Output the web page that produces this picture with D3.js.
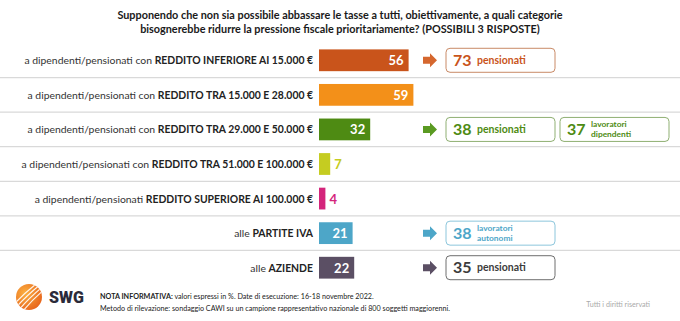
<!DOCTYPE html>
<html><head><meta charset="utf-8">
<script src="https://cdn.jsdelivr.net/npm/d3@7"></script>
<style>
html,body{margin:0;padding:0;background:#fff;}
svg{display:block;font-family:Lato, "Open Sans", sans-serif;}
</style></head>
<body>
<script>
// ---------- DATA ----------
const titleLines = [
  "Supponendo che non sia possibile abbassare le tasse a tutti, obiettivamente, a quali categorie",
  "bisognerebbe ridurre la pressione fiscale prioritariamente? (POSSIBILI 3 RISPOSTE)"
];
const labelPrefix = [
  "a dipendenti/pensionati con ",
  "a dipendenti/pensionati con ",
  "a dipendenti/pensionati con ",
  "a dipendenti/pensionati con ",
  "a dipendenti/pensionati ",
  "alle ",
  "alle "
];
const labelBold = [
  "REDDITO INFERIORE AI 15.000 €",
  "REDDITO TRA 15.000 E 28.000 €",
  "REDDITO TRA 29.000 E 50.000 €",
  "REDDITO TRA 51.000 E 100.000 €",
  "REDDITO SUPERIORE AI 100.000 €",
  "PARTITE IVA",
  "AZIENDE"
];
const values = [56, 59, 32, 7, 4, 21, 22];
const colors = ["#C9541B", "#F39019", "#4E8B13", "#C5CC21", "#D4257B", "#4DA6C8", "#5B4F64"];
// callouts: row index, value, label lines
const calloutRow   = [0, 2, 2, 5, 6];
const calloutSlot  = [0, 0, 1, 0, 0];
const calloutValue = [73, 38, 37, 38, 35];
const calloutText  = [["pensionati"], ["pensionati"], ["lavoratori", "dipendenti"], ["lavoratori", "autonomi"], ["pensionati"]];
const calloutColor = ["#C9541B", "#4E8B13", "#4E8B13", "#4DA6C8", "#3C3C3C"];
const calloutBorder= ["#C98A66", "#8FAF72", "#8FAF72", "#8CC6DC", "#6E6E6E"];
const arrowRows    = [0, 2, 5, 6];
const arrowColors  = ["#D5672E", "#5A9A22", "#4DA6C8", "#5B4F64"];
const noteBold = "NOTA INFORMATIVA:";
const noteLine1 = " valori espressi in %. Date di esecuzione: 16-18 novembre 2022.";
const noteLine2 = "Metodo di rilevazione: sondaggio CAWI su un campione rappresentativo nazionale di 800 soggetti maggiorenni.";
const rights = "Tutti i diritti riservati";

// ---------- CHART ----------
const W = 680, H = 321;
const svg = d3.select("body").append("svg").attr("width", W).attr("height", H);

const rows = d3.range(values.length);
const y = d3.scaleBand().domain(rows).range([43, 285]).paddingInner(0.37).paddingOuter(0.185);
const x = d3.scaleLinear().domain([0, 100]).range([319, 479]);
const step = y.step();

// title
svg.append("g").selectAll("text").data(titleLines).join("text")
  .attr("x", 340).attr("y", (d, i) => 19 + i * 14)
  .attr("text-anchor", "middle")
  .attr("font-size", 10.85).attr("font-weight", 700).attr("fill", "#1a1a1a")
  .text(d => d);

// separators
svg.append("g").selectAll("line").data(rows.slice(1)).join("line")
  .attr("x1", 0).attr("x2", W)
  .attr("y1", d => y(d) - (step - y.bandwidth()) / 2)
  .attr("y2", d => y(d) - (step - y.bandwidth()) / 2)
  .attr("stroke", "#d9d9d9").attr("stroke-width", 1.2);

// category labels
const lab = svg.append("g").selectAll("text").data(rows).join("text")
  .attr("x", 313).attr("y", d => y(d) + y.bandwidth() / 2 + 4)
  .attr("text-anchor", "end").attr("font-size", 10.4).attr("fill", "#333");
lab.append("tspan").text(d => labelPrefix[d]);
lab.append("tspan").attr("font-weight", 700).attr("fill", "#222").text(d => labelBold[d]);

// bars
svg.append("g").selectAll("rect").data(rows).join("rect")
  .attr("x", x(0)).attr("y", d => y(d))
  .attr("width", d => x(values[d]) - x(0)).attr("height", y.bandwidth())
  .attr("fill", d => colors[d]);

// value labels
svg.append("g").selectAll("text").data(rows).join("text")
  .attr("x", d => values[d] > 12 ? x(values[d]) - 5 : x(values[d]) + 4)
  .attr("y", d => y(d) + y.bandwidth() / 2 + 5)
  .attr("text-anchor", d => values[d] > 12 ? "end" : "start")
  .attr("font-size", 13).attr("font-weight", 700)
  .attr("fill", d => values[d] > 12 ? "#fff" : colors[d])
  .text(d => values[d]);

// arrows
const arrowPath = "M0,-3.5 L7,-3.5 L7,-7 L14,0 L7,7 L7,3.5 L0,3.5 Z";
svg.append("g").selectAll("path").data(arrowRows).join("path")
  .attr("transform", d => `translate(423,${y(d) + y.bandwidth() / 2})`)
  .attr("d", arrowPath)
  .attr("fill", (d, i) => arrowColors[i]);

// callout boxes
const slotX = [446, 560];
const cg = svg.append("g").selectAll("g").data(calloutRow.map((r, i) => i)).join("g")
  .attr("transform", i => `translate(${slotX[calloutSlot[i]]},${y(calloutRow[i]) + y.bandwidth() / 2})`);
cg.append("rect").attr("x", 0).attr("y", -12).attr("width", 109).attr("height", 24)
  .attr("rx", 4).attr("fill", "#fff")
  .attr("stroke", i => calloutBorder[i]).attr("stroke-width", 1);
cg.append("text").attr("x", 7).attr("y", 5.5)
  .attr("font-size", 16).attr("font-weight", 700)
  .attr("fill", i => calloutColor[i]).text(i => calloutValue[i]);
cg.each(function (i) {
  const g = d3.select(this);
  const lines = calloutText[i];
  const t = g.append("text")
    .attr("y", lines.length === 1 ? 3.5 : -2.4)
    .attr("font-size", lines.length === 1 ? 10.5 : 8.4).attr("font-weight", 700)
    .attr("fill", calloutColor[i]);
  t.selectAll("tspan").data(lines).join("tspan")
    .attr("x", 31).attr("dy", (d, k) => k === 0 ? 0 : 10.2).text(d => d);
});

// footer logo
const defs = svg.append("defs");
const grad = defs.append("radialGradient").attr("id", "lg").attr("cx", "35%").attr("cy", "35%").attr("r", "70%");
grad.append("stop").attr("offset", "0%").attr("stop-color", "#FBB040");
grad.append("stop").attr("offset", "100%").attr("stop-color", "#E8661C");
defs.append("clipPath").attr("id", "lc").append("circle").attr("cx", 29).attr("cy", 297).attr("r", 13);
svg.append("circle").attr("cx", 29).attr("cy", 297).attr("r", 13).attr("fill", "url(#lg)");
const stripes = svg.append("g").attr("clip-path", "url(#lc)");
[-8, -3, 2, 7].forEach(o => {
  stripes.append("path")
    .attr("d", `M${12 + o},${316} Q${24 + o},${300} ${44 + o},${284}`)
    .attr("stroke", "#fff").attr("stroke-width", 1.2).attr("fill", "none").attr("opacity", 0.9);
});
svg.append("text").attr("x", 49).attr("y", 303).attr("font-size", 16).attr("font-weight", 900)
  .attr("fill", "#2b2b3a").attr("font-family", "Roboto, sans-serif").text("SWG");

const n1 = svg.append("text").attr("x", 100).attr("y", 299).attr("font-size", 7.2).attr("fill", "#222");
n1.append("tspan").attr("font-weight", 700).text(noteBold);
n1.append("tspan").text(noteLine1);
svg.append("text").attr("x", 100).attr("y", 311).attr("font-size", 7.2).attr("fill", "#222").text(noteLine2);
svg.append("text").attr("x", 650).attr("y", 307).attr("text-anchor", "end").attr("font-size", 7.2)
  .attr("fill", "#aaa").text(rights);
</script>
</body></html>
